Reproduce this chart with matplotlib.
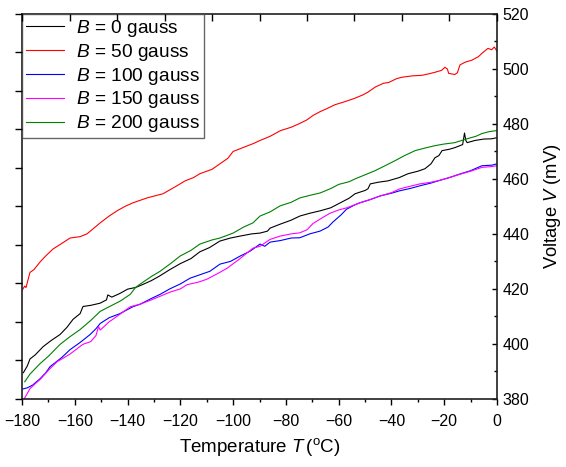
import matplotlib
matplotlib.use('Agg')
import matplotlib.pyplot as plt
from matplotlib.ticker import MultipleLocator

plt.rcParams['font.family'] = ['Liberation Sans', 'DejaVu Sans']
plt.rcParams['mathtext.fontset'] = 'custom'
plt.rcParams['mathtext.rm'] = 'Liberation Sans'
plt.rcParams['mathtext.it'] = 'Liberation Sans:italic'

# B = 0 gauss
t_b0 = [-179.5, -178, -177, -175, -172, -169, -165.6, -163, -160.7, -158, -156.9, -154, -150.4, -148,
        -147.5, -146, -143, -140, -137, -134, -131, -128, -124, -120, -116, -112.6, -109, -105, -101,
        -97.4, -93, -89.8, -87, -86, -82, -78, -74.7, -71, -67, -63, -60, -56, -53.8, -50, -48.9, -48,
        -45, -41.3, -37, -33.7, -30, -27.3, -25, -23.5, -22, -20.8, -18, -15.9, -13, -12.3, -11.8, -11.3,
        -8.3, -5, -2, 0]
v_b0 = [389.5, 392, 394.5, 396, 399, 401.2, 403.4, 406, 408.9, 411, 413.6, 414, 414.8, 416,
        417.8, 417, 418.3, 419.9, 420.5, 421.7, 423, 424.6, 427, 429.2, 431, 433.5, 435, 437.4, 438.5,
        439.2, 440, 440.3, 441, 442.1, 443.6, 445, 446.5, 447.5, 448.4, 449.5, 451, 453, 454.6, 455.8, 456.4, 458.2,
        458.8, 459.3, 460.5, 461.9, 462.8, 463.7, 465.5, 467.7, 468.5, 470.3, 470.8, 471.4, 472.5, 476.7, 474, 473.2,
        474, 474.5, 474.6, 475]

# B = 50 gauss
t_b50 = [-180, -179, -178.5, -177, -175.5, -173, -171, -168.3, -165, -161.8, -158, -155.4, -150.4, -147,
         -144, -141, -138, -132.6, -126.6, -121.3, -118.2, -115, -112.6, -108, -105, -102, -100, -96, -92,
         -89.8, -86, -82, -78, -74.7, -72, -69.7, -67, -64.4, -61.4, -58, -54, -51, -49, -46, -43, -41,
         -38, -36, -32, -28.4, -26, -23.5, -21, -19.7, -18.8, -18.3, -16, -15, -14, -12, -9.5, -7, -5.7,
         -3.4, -2, -1, 0]
v_b50 = [419.5, 421, 420.5, 426, 427, 430, 432, 434.5, 436.5, 438.5, 439, 440, 444, 446.5,
         448.4, 450, 451.3, 453.1, 454.6, 457.5, 459.3, 460.5, 461.9, 463.5, 465.5, 467.5, 470, 471.5, 473,
         474, 475.5, 477.6, 478.8, 480.2, 481.5, 483.1, 484.5, 485.6, 487, 488, 489.3, 490.5, 491.5, 493.5, 494.8, 495.1,
         496.5, 497, 497.5, 497.7, 498.2, 498.8, 499.5, 500.6, 500, 498.4, 498, 498.6, 501.5, 502.5, 503.2, 504.5, 505.7,
         507.5, 507, 508, 506.5]

# B = 100 gauss
t_b100 = [-180, -178, -176, -173.2, -171, -169.4, -165, -161.8, -158, -154.2, -152, -150.4, -147, -142.9,
          -138, -135.3, -131, -127.7, -124, -120, -116.3, -113, -108.8, -105, -101, -97.4, -93.6, -89.8,
          -88, -86, -82, -78, -74.7, -71, -67.1, -64, -62.2, -59, -57, -54, -52, -48, -44.3, -40, -36.8,
          -33, -29.2, -25, -21.6, -18, -14, -10, -5.7, -2, 0]
v_b100 = [383.5, 384, 385, 387.3, 389.5, 391.7, 395, 397.9, 400.5, 403.4, 405.5, 407.4, 409.5, 411,
          413.5, 414.4, 416.5, 418, 420, 421.8, 423.9, 425, 426.4, 429, 430, 431.9, 433.7, 436.3,
          435.5, 437, 437.6, 438.5, 438.6, 440, 441, 442.5, 444.3, 447, 449, 450.5, 451.3, 452.5, 453.8, 454.8, 455.7,
          456.5, 457.5, 458.5, 459.5, 460.5, 461.8, 463, 464.8, 465, 465.5]

# B = 150 gauss
t_b150 = [-180, -179.5, -178, -177, -175, -173.2, -169.4, -166.7, -161.8, -157, -154, -152, -151, -150.4,
          -147, -143, -139, -135.3, -131, -127.7, -124, -120, -117.5, -113, -110, -106, -102.3, -97.4,
          -92.5, -89.8, -86, -82.2, -78, -74.7, -72, -69.7, -66, -63.3, -60, -56.9, -52, -48, -44.3, -40,
          -36.8, -33, -29.2, -25, -21.6, -18, -14, -10, -5.7, -2, 0]
v_b150 = [380, 379.5, 382, 383.7, 385.5, 387, 391, 393.5, 396.3, 399.8, 400.8, 403, 406.3, 405,
          408, 410.7, 413.5, 414.4, 416, 417.3, 418.8, 420, 421.5, 422.5, 423.5, 425.5, 427.5, 431,
          434.8, 435.5, 438, 439.2, 440, 440.4, 441.5, 443.8, 446, 447.5, 448.7, 449.5, 451.3, 452.5, 453.8, 455,
          456.4, 457.3, 458.2, 458.8, 459.5, 460.5, 461.7, 462.8, 464.2, 464.5, 464.8]

# B = 200 gauss
t_b200 = [-179, -177, -173.2, -170, -165.6, -162, -158, -154, -150.4, -147, -142.9, -139, -137, -135.3,
          -131, -127.7, -124, -120, -116, -112.6, -108, -105, -100, -96, -92.5, -89.8, -86, -82.2, -78,
          -74.7, -71, -67, -63, -60, -56, -53.8, -50, -46.2, -42, -38.7, -35, -31, -27, -23.5, -20, -16,
          -11, -8, -5.7, -3, 0]
v_b200 = [386.2, 389, 392.8, 395.5, 399.8, 402.5, 405.2, 408.5, 411.8, 413.5, 415.5, 418, 420.5, 421.7,
          424.5, 426.4, 429, 432, 434, 436.3, 437.8, 438.5, 440.3, 442.5, 444, 446.5, 448, 450.2, 451.5,
          453.1, 454, 454.9, 456.5, 458, 459, 460, 461.5, 463, 465, 466.6, 468.5, 470.3, 471.3, 472.1, 472.7, 473.2,
          474.7, 475.5, 476.5, 477.2, 477.6]

series = [
    (t_b0, v_b0, 'black', r'$B$ = 0 gauss'),
    (t_b50, v_b50, '#ff0000', r'$B$ = 50 gauss'),
    (t_b100, v_b100, '#0000ff', r'$B$ = 100 gauss'),
    (t_b150, v_b150, '#ff00ff', r'$B$ = 150 gauss'),
    (t_b200, v_b200, '#008000', r'$B$ = 200 gauss'),
]

fig = plt.figure(figsize=(5.66, 4.67), dpi=100)
ax = fig.add_axes([0.039, 0.146, 0.839, 0.824])

# unlabelled left and top scales (made first, twinx moves ax ticks)
axl = ax.twinx()
axt = ax.twiny()

for t, v, c, lab in series:
    ax.plot(t, v, color=c, lw=0.8, label=lab)

ax.set_xlim(-180, 0)
ax.set_ylim(380, 520)
ax.xaxis.set_major_locator(MultipleLocator(20))
ax.xaxis.set_minor_locator(MultipleLocator(10))
ax.yaxis.set_major_locator(MultipleLocator(20))
ax.yaxis.set_minor_locator(MultipleLocator(10))
ax.tick_params(axis='x', which='major', direction='out', length=4, width=1, labelsize=11.5, pad=7,
               bottom=True, top=False, labelbottom=True, labeltop=False)
ax.tick_params(axis='x', which='minor', direction='out', length=2.5, width=1, bottom=True, top=False)
ax.tick_params(axis='y', which='major', direction='in', length=3.5, width=1, labelsize=11.5, pad=4,
               left=False, right=True, labelleft=False, labelright=True)
ax.tick_params(axis='y', which='minor', direction='in', length=2.5, width=1, left=False, right=True)
ax.yaxis.set_label_position('right')
ax.set_xlabel(r'Temperature $T\,$($^{\rm o}$C)', fontsize=13.5, labelpad=5)
ax.set_ylabel(r'Voltage $V$ (mV)', fontsize=13.2, labelpad=9)
for s in ax.spines.values():
    s.set_linewidth(1.2)
    s.set_color('#202020')

axl.set_ylim(0, 10)
axl.yaxis.set_major_locator(MultipleLocator(1))
axl.tick_params(axis='y', direction='out', length=5, width=1, left=True, right=False,
                labelleft=False, labelright=False)
axt.set_xlim(0, 10)
axt.xaxis.set_major_locator(MultipleLocator(1))
axt.tick_params(axis='x', direction='in', length=5, width=1, top=True, bottom=False,
                labeltop=False, labelbottom=False)
for a in (axl, axt):
    for s in a.spines.values():
        s.set_visible(False)

leg = ax.legend(loc='upper left', bbox_to_anchor=(0, 1), borderaxespad=0, fontsize=13.8,
                frameon=True, fancybox=False, handlelength=2.0, handletextpad=0.6,
                labelspacing=0.15, borderpad=0.2)
leg.get_frame().set_edgecolor('#404040')
leg.get_frame().set_linewidth(1.0)

fig.savefig('out.png', dpi=100)
